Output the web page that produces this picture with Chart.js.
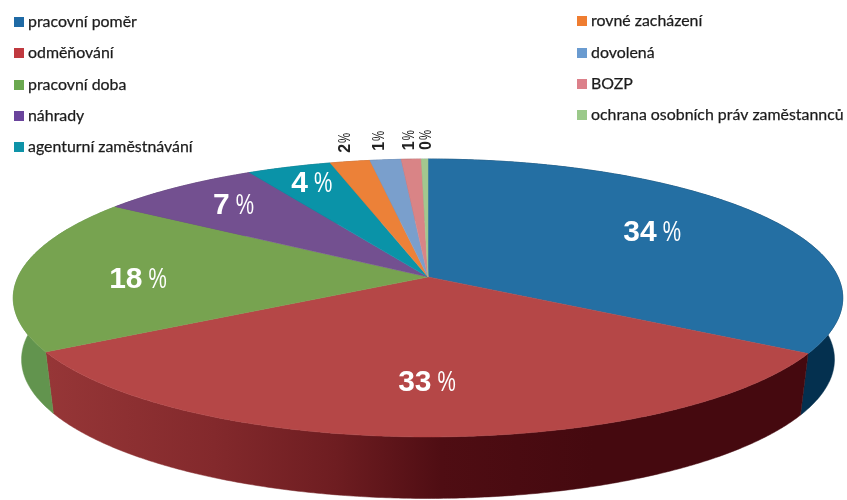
<!DOCTYPE html>
<html lang="cs">
<head>
<meta charset="utf-8">
<title>Graf</title>
<script src="https://cdn.jsdelivr.net/npm/chart.js@4"></script>
<style>
html,body{margin:0;padding:0;background:#fff}
#wrap{position:relative;width:847px;height:500px;overflow:hidden}
canvas{display:block;filter:blur(0.35px)}
</style>
</head>
<body>
<div id="wrap"><canvas id="c" width="847" height="500"></canvas></div>
<script>
const categories = ['pracovní poměr','odměňování','pracovní doba','náhrady','agenturní zaměstnávání','rovné zacházení','dovolená','BOZP','ochrana osobních práv zaměstannců'];
const shares = [33.7,32.8,18.0,7.3,3.8,1.8,1.4,0.9,0.3];
const faceColors = ['#246fa3','#b54747','#77a350','#735090','#0a93a8','#ec8138','#7a9fcc','#d98486','#a3c78f'];
const wallColors = ['#04304f','#7a2528','#62944e','#4a3060','#06606e','#a05520','#506f90','#905050','#70907a'];
const legendColors = ['#1f6aa5','#c0393f','#6aa84f','#6a449c','#0e93a8','#ef7d31','#6a9bd0','#dc808a','#9bc98a'];
const labelRadii = [0.67,0.70,0.71,0.776,0.835,1.19,1.19,1.19,1.19];
const labelNudgeX = [-4,1,0,4,2,8,0,0,2];
const labelNudgeY = [-4,-2,4,-2,-1,0,0,0,0];

// perspective of the pie's top face
const CX = 428, CY = 277, A = 410, B = 135.8, K = 0.151, DEPTH = 61.5, SHRINK = 0.98;
function project(angle, r){
  const u = r*Math.cos(angle), v = r*Math.sin(angle), w = 1 - K*v;
  return [CX + A*u/w, CY + B*v/w];
}
function lower(p){ return [CX + (p[0]-CX)*SHRINK, p[1] + DEPTH]; }
function arcSamples(a0, a1){
  const n = Math.max(2, Math.ceil((a1-a0)/(Math.PI/360)));
  const out = [];
  for(let i=0;i<=n;i++) out.push(project(a0+(a1-a0)*i/n, 1));
  return out;
}

const pie3d = {
  id:'pie3d',
  beforeDatasetDraw(chart){
    const ctx = chart.ctx, arcs = chart.getDatasetMeta(0).data;
    const redWall = ctx.createLinearGradient(48,0,805,0);
    redWall.addColorStop(0,'#963637');
    redWall.addColorStop(0.22,'#83292c');
    redWall.addColorStop(0.38,'#6e1d21');
    redWall.addColorStop(0.52,'#4f0d13');
    redWall.addColorStop(0.72,'#45090f');
    redWall.addColorStop(1,'#45090f');
    ctx.save();
    arcs.forEach((el,i)=>{
      const pts = arcSamples(el.startAngle, el.endAngle);
      ctx.beginPath();
      pts.forEach((p,j)=> j ? ctx.lineTo(p[0],p[1]) : ctx.moveTo(p[0],p[1]));
      pts.slice().reverse().forEach(p=>{ const q = lower(p); ctx.lineTo(q[0],q[1]); });
      ctx.closePath();
      const fill = i===1 ? redWall : wallColors[i];
      ctx.fillStyle = fill; ctx.strokeStyle = fill; ctx.lineWidth = 0.5;
      ctx.fill(); ctx.stroke();
    });
    arcs.forEach((el,i)=>{
      const pts = arcSamples(el.startAngle, el.endAngle);
      ctx.beginPath();
      ctx.moveTo(CX,CY);
      pts.forEach(p=>ctx.lineTo(p[0],p[1]));
      ctx.closePath();
      ctx.fillStyle = faceColors[i]; ctx.strokeStyle = faceColors[i]; ctx.lineWidth = 0.5;
      ctx.fill(); ctx.stroke();
    });
    ctx.restore();
    return false;
  },
  afterDatasetsDraw(chart){
    const ctx = chart.ctx, arcs = chart.getDatasetMeta(0).data;
    ctx.save();
    ctx.textBaseline = 'alphabetic';
    arcs.forEach((el,i)=>{
      const mid = (el.startAngle+el.endAngle)/2;
      const p = project(mid, labelRadii[i]);
      const num = String(Math.round(shares[i]));
      const outer = labelRadii[i] > 1;
      const numFont = outer ? 'bold 16px "Liberation Sans"' : 'bold 30px "Liberation Sans"';
      const pctFont = outer ? '16px "Liberation Sans"' : '29px "Liberation Sans"';
      const squeeze = 0.71;
      ctx.font = numFont; const nw = ctx.measureText(num).width;
      ctx.font = pctFont; const pw = ctx.measureText('%').width*squeeze;
      const gap = outer ? 1 : 6;
      const total = nw+gap+pw;
      ctx.save();
      ctx.translate(p[0]+labelNudgeX[i],p[1]+labelNudgeY[i]);
      if(outer) ctx.rotate(-Math.PI/2);
      ctx.fillStyle = outer ? '#222222' : '#ffffff';
      ctx.textAlign = 'left';
      const base = outer ? 5 : 10;
      ctx.font = numFont; ctx.fillText(num, -total/2, base);
      ctx.translate(-total/2+nw+gap, base);
      ctx.scale(squeeze,1);
      ctx.font = pctFont; ctx.fillText('%', 0, 0);
      ctx.restore();
    });
    // legend
    ctx.font = '15.9px Lato';
    ctx.textAlign = 'left';
    ctx.textBaseline = 'middle';
    ctx.lineWidth = 0.25;
    const rowsLeft = [22,53,85,116,147], rowsRight = [21,53,84,115];
    categories.forEach((name,i)=>{
      const left = i < 5;
      const x = left ? 14 : 577, y = left ? rowsLeft[i] : rowsRight[i-5];
      ctx.fillStyle = legendColors[i];
      ctx.fillRect(x, y-5, 10, 10);
      ctx.fillStyle = '#1c1c1c';
      ctx.strokeStyle = '#1c1c1c';
      ctx.fillText(name, x+14, y);
      ctx.strokeText(name, x+14, y);
    });
    ctx.restore();
  }
};

new Chart(document.getElementById('c'),{
  type:'pie',
  data:{labels:categories,datasets:[{data:shares,backgroundColor:faceColors,borderWidth:0}]},
  options:{
    responsive:false,
    animation:false,
    layout:{padding:0},
    plugins:{legend:{display:false},tooltip:{enabled:false},title:{display:false}}
  },
  plugins:[pie3d]
});
</script>
</body>
</html>
